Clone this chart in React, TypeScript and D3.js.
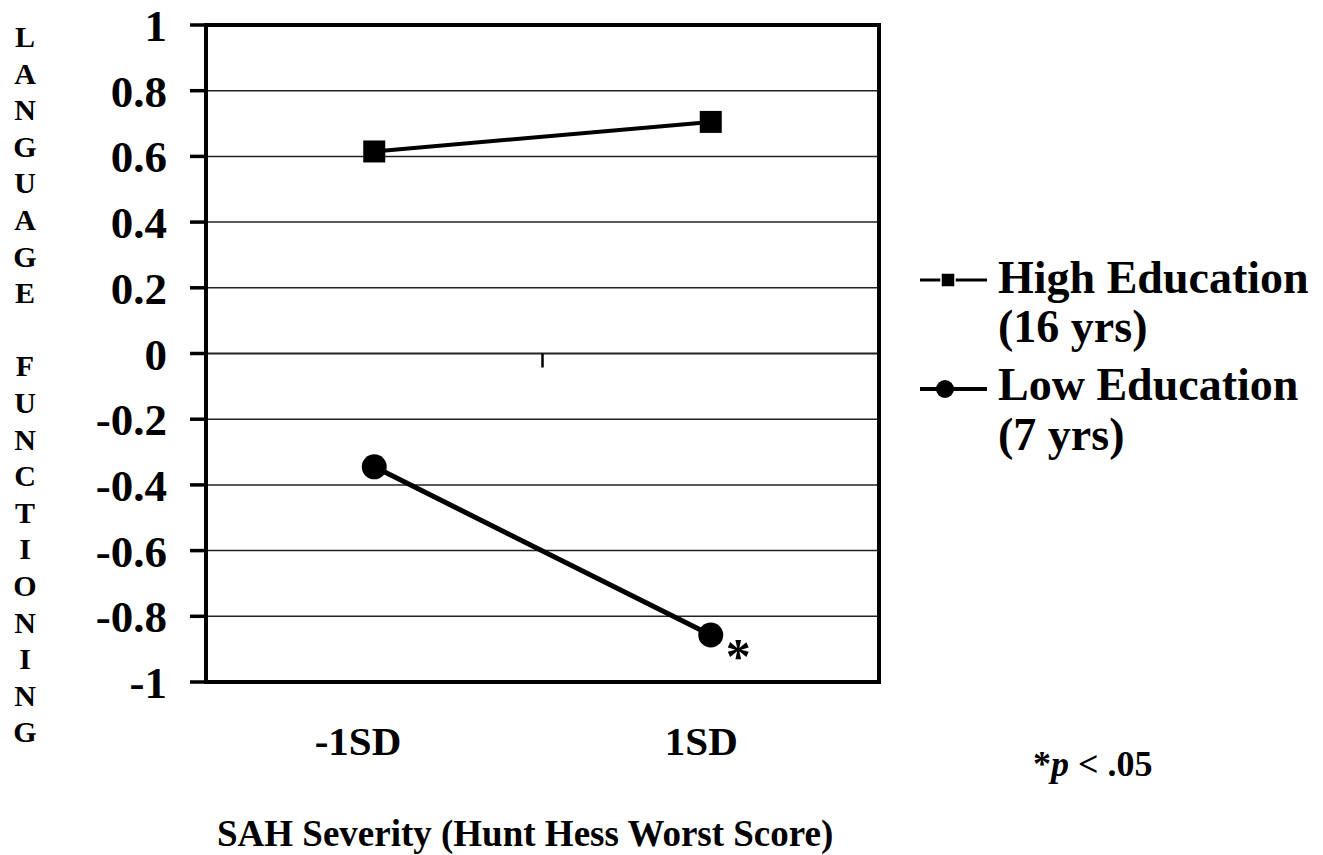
import React, { useEffect, useRef } from 'react';
import * as d3 from 'd3';

const categories = ["-1SD", "1SD"];
const highEducation = [0.615, 0.705];
const lowEducation = [-0.345, -0.857];
const yTicks = [1, 0.8, 0.6, 0.4, 0.2, 0, -0.2, -0.4, -0.6, -0.8, -1];
const yTitle = "LANGUAGE FUNCTIONING";
const legendItems = [
  { lines: ["High Education", "(16 yrs)"], marker: "square" },
  { lines: ["Low Education", "(7 yrs)"], marker: "circle" }
];

const FONT = '"Liberation Serif", "Times New Roman", serif';

const App: React.FC = () => {
  const svgRef = useRef<SVGSVGElement>(null);

  useEffect(() => {
    document.body.style.margin = "0";
    if (!svgRef.current) return;
    const svg = d3.select(svgRef.current);
    svg.selectAll("*").remove();

    const plot = { left: 206, right: 879, top: 25, bottom: 682 };

    const x = d3.scaleBand<string>()
      .domain(categories)
      .range([plot.left, plot.right])
      .padding(0);
    const y = d3.scaleLinear().domain([-1, 1]).range([plot.bottom, plot.top]);
    const cx = (c: string) => (x(c) || 0) + x.bandwidth() / 2;

    const g = svg.append("g").attr("font-family", FONT).attr("font-weight", "bold");

    // gridlines
    g.selectAll(".grid")
      .data(yTicks.filter(t => t !== 1 && t !== -1))
      .enter()
      .append("line")
      .attr("x1", plot.left)
      .attr("x2", plot.right)
      .attr("y1", d => y(d))
      .attr("y2", d => y(d))
      .attr("stroke", "#222")
      .attr("stroke-width", d => (d === 0 ? 2 : 1.5));

    // category axis sits on zero, tick between categories
    categories.slice(1).forEach(c => {
      const bx = x(c) || 0;
      g.append("line")
        .attr("x1", bx).attr("x2", bx)
        .attr("y1", y(0)).attr("y2", y(0) + 14)
        .attr("stroke", "#000").attr("stroke-width", 2.5);
    });

    // frame
    g.append("path")
      .attr("d", `M${plot.left},${plot.bottom}V${plot.top}H${plot.right}V${plot.bottom}`)
      .attr("fill", "none")
      .attr("stroke", "#000")
      .attr("stroke-width", 4);
    g.append("line")
      .attr("x1", plot.left - 2).attr("x2", plot.right + 2)
      .attr("y1", plot.bottom).attr("y2", plot.bottom)
      .attr("stroke", "#000").attr("stroke-width", 4);

    // y ticks and labels
    yTicks.forEach(t => {
      g.append("line")
        .attr("x1", plot.left - 16).attr("x2", plot.left)
        .attr("y1", y(t)).attr("y2", y(t))
        .attr("stroke", "#000").attr("stroke-width", 3.5);
      g.append("text")
        .attr("x", 167)
        .attr("y", y(t) + 16)
        .attr("text-anchor", "end")
        .attr("font-size", 45)
        .text(String(t));
    });

    // x labels (right edge a bit past the category centre, as in the source)
    categories.forEach(c => {
      g.append("text")
        .attr("x", cx(c) + 27)
        .attr("y", 755)
        .attr("text-anchor", "end")
        .attr("font-size", 41)
        .text(c);
    });

    // y title, stacked letters
    yTitle.split("").forEach((ch, i) => {
      g.append("text")
        .attr("x", 25)
        .attr("y", 47 + i * 36.6)
        .attr("text-anchor", "middle")
        .attr("font-size", 30)
        .text(ch);
    });

    // x title
    g.append("text")
      .attr("x", 217)
      .attr("y", 846)
      .attr("font-size", 37)
      .text("SAH Severity (Hunt Hess Worst Score)");

    // series
    const line = d3.line<number>()
      .x((_, i) => cx(categories[i]))
      .y(d => y(d));

    g.append("path")
      .attr("d", line(highEducation))
      .attr("fill", "none")
      .attr("stroke", "#000")
      .attr("stroke-width", 4);
    highEducation.forEach((v, i) => {
      g.append("rect")
        .attr("x", cx(categories[i]) - 11)
        .attr("y", y(v) - 11)
        .attr("width", 22)
        .attr("height", 22)
        .attr("fill", "#000");
    });

    g.append("path")
      .attr("d", line(lowEducation))
      .attr("fill", "none")
      .attr("stroke", "#000")
      .attr("stroke-width", 5);
    lowEducation.forEach((v, i) => {
      g.append("circle")
        .attr("cx", cx(categories[i]))
        .attr("cy", y(v))
        .attr("r", 12.5)
        .attr("fill", "#000");
    });

    // significance marker
    const last = lowEducation.length - 1;
    g.append("text")
      .attr("x", cx(categories[last]) + 15)
      .attr("y", y(lowEducation[last]) + 38)
      .attr("font-size", 50)
      .text("*");

    // legend
    const lx = 920;
    const rows = [[280, 293, 342], [389, 400, 450]];
    legendItems.forEach((item, i) => {
      const [my, b1, b2] = rows[i];
      g.append("line")
        .attr("x1", lx).attr("x2", lx + 67)
        .attr("y1", my).attr("y2", my)
        .attr("stroke", "#000")
        .attr("stroke-width", i === 0 ? 3 : 4);
      if (item.marker === "square") {
        g.append("rect")
          .attr("x", lx + 21).attr("y", my - 7)
          .attr("width", 14).attr("height", 14)
          .attr("fill", "#000")
          .attr("stroke", "#fff").attr("stroke-width", 1.5);
      } else {
        g.append("circle")
          .attr("cx", lx + 25).attr("cy", my)
          .attr("r", 9)
          .attr("fill", "#000");
      }
      [b1, b2].forEach((by, j) => {
        g.append("text")
          .attr("x", lx + 78)
          .attr("y", by)
          .attr("font-size", 46)
          .text(item.lines[j]);
      });
    });

    // footnote
    const fn = g.append("text")
      .attr("x", 1033)
      .attr("y", 776)
      .attr("font-size", 36);
    fn.append("tspan").text("*");
    fn.append("tspan").attr("font-style", "italic").text("p");
    fn.append("tspan").text(" < .05");
  }, []);

  return (
    <svg
      ref={svgRef}
      width={1323}
      height={855}
      style={{ display: "block", background: "#fff" }}
    />
  );
};

export default App;
